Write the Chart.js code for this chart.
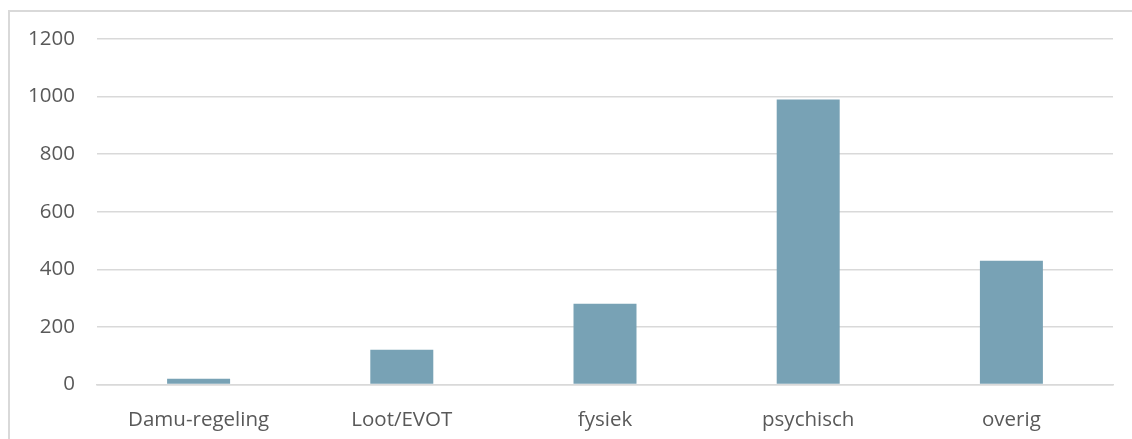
<!DOCTYPE html>
<html>
<head>
<meta charset="utf-8">
<script src="https://cdn.jsdelivr.net/npm/chart.js@4"></script>
<style>
  html, body { margin: 0; padding: 0; background: #fff; overflow: hidden; }
  #frame { position: absolute; left: 8px; top: 10px; width: 1200px; height: 500px; border: 2px solid #d9d9d9; box-sizing: border-box; }
  #wrap { position: absolute; left: 0; top: 0; width: 1132px; height: 448px; }
</style>
</head>
<body>
<div id="frame"></div>
<div id="wrap"><canvas id="chart"></canvas></div>
<script>
const categories = ['Damu-regeling', 'Loot/EVOT', 'fysiek', 'psychisch', 'overig'];
const values = [20, 120, 280, 990, 430];
const yTicks = [0, 200, 400, 600, 800, 1000, 1200];

const font = { family: 'Open Sans', size: 20.5 };

new Chart(document.getElementById('chart'), {
  type: 'bar',
  data: {
    labels: categories,
    datasets: [{
      data: values,
      backgroundColor: '#78a2b5',
      categoryPercentage: 1,
      barPercentage: 0.31
    }]
  },
  options: {
    responsive: true,
    maintainAspectRatio: false,
    animation: false,
    layout: { padding: { left: 0, right: 19, top: 39, bottom: 0 } },
    plugins: { legend: { display: false }, tooltip: { enabled: false } },
    scales: {
      x: {
        grid: { display: false },
        border: { color: '#d9d9d9', width: 1.5 },
        ticks: { color: '#595959', font, padding: 15.5 }
      },
      y: {
        min: 0,
        max: 1200,
        afterBuildTicks: s => { s.ticks = yTicks.map(v => ({ value: v })); },
        afterFit: s => { s.width = 97; },
        grid: { color: '#d9d9d9', lineWidth: 1.5, drawTicks: false },
        border: { display: false },
        ticks: { color: '#595959', font, padding: 22, callback: v => String(v) }
      }
    }
  }
});
</script>
</body>
</html>
